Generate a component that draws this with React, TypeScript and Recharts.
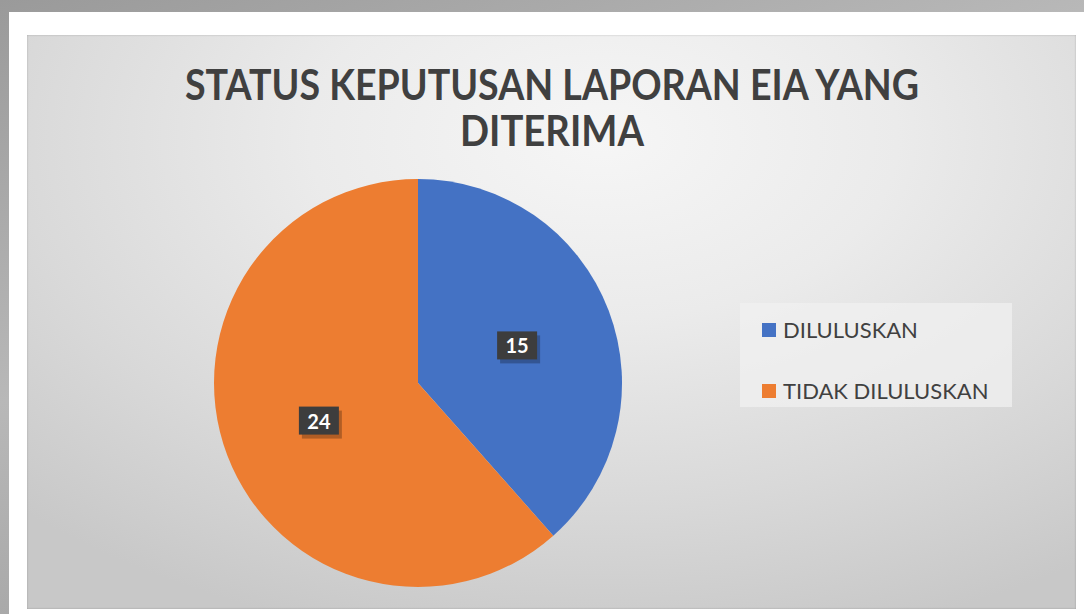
import { PieChart, Pie, Cell, Legend } from 'recharts';

const statusNames = ['DILULUSKAN', 'TIDAK DILULUSKAN'];
const statusValues = [15, 24];
const sliceColors = ['#4472c4', '#ed7d31'];
const titleLines = ['STATUS KEPUTUSAN LAPORAN EIA YANG', 'DITERIMA'];

const pieData = statusNames.map((name, i) => ({ name, value: statusValues[i] }));

const RADIAN = Math.PI / 180;

const renderBoxLabel = (props: any) => {
  const { cx, cy, midAngle, value } = props;
  const r = 106;
  const x = cx + r * Math.cos(-midAngle * RADIAN);
  const y = cy + r * Math.sin(-midAngle * RADIAN);
  const w = 40;
  const h = 28;
  return (
    <g>
      <rect x={x - w / 2 + 3} y={y - h / 2 + 4} width={w} height={h} fill="#000" opacity={0.25} />
      <rect x={x - w / 2} y={y - h / 2} width={w} height={h} fill="#3d3d3d" />
      <text
        x={x}
        y={y}
        fill="#fff"
        textAnchor="middle"
        dominantBaseline="central"
        fontFamily="Lato, sans-serif"
        fontWeight="bold"
        fontSize={20}
      >
        {value}
      </text>
    </g>
  );
};

const renderLegend = (props: any) => {
  const { payload } = props;
  return (
    <div
      style={{
        width: 272,
        height: 104,
        background: 'rgba(240,240,240,0.75)',
        position: 'relative',
        fontFamily: 'Lato, sans-serif',
      }}
    >
      {(payload || []).map((entry: any, i: number) => (
        <div
          key={entry.value}
          style={{
            position: 'absolute',
            left: 22,
            top: 14 + i * 61,
            height: 26,
            display: 'flex',
            alignItems: 'center',
          }}
        >
          <span style={{ width: 14, height: 14, background: entry.color, display: 'inline-block' }} />
          <span style={{ marginLeft: 7, fontSize: 22, color: '#404040', lineHeight: '26px' }}>{entry.value}</span>
        </div>
      ))}
    </div>
  );
};

export default function App() {
  return (
    <div
      style={{
        position: 'fixed',
        left: 0,
        top: 0,
        width: 1084,
        height: 614,
        overflow: 'hidden',
        background: 'linear-gradient(160deg, #9a9a9a 0%, #b8b8b8 40%, #8e8e8e 100%)',
      }}
    >
      <div style={{ position: 'absolute', left: 9, top: 12, width: 1075, height: 602, background: '#fff' }} />
      <div
        style={{
          position: 'absolute',
          left: 27,
          top: 35,
          width: 1049,
          height: 574,
          background:
            'radial-gradient(ellipse 80% 90% at 55% 18%, #f6f6f6 0%, #ebebeb 35%, #d9d9d9 70%, #c8c8c8 100%)',
          boxShadow: 'inset 0 0 2px rgba(0,0,0,0.25)',
        }}
      />
      <svg width={1084} height={614} style={{ position: 'absolute', left: 0, top: 0 }}>
        {titleLines.map((line, i) => (
          <text
            key={line}
            x={552}
            y={100 + i * 46}
            textAnchor="middle"
            fontFamily="Lato, sans-serif"
            fontWeight="bold"
            fontSize={42}
            fill="#404040"
            textLength={i === 0 ? 734 : 184}
            lengthAdjust="spacingAndGlyphs"
          >
            {line}
          </text>
        ))}
      </svg>
      <div style={{ position: 'absolute', left: 0, top: 0 }}>
        <PieChart width={1084} height={614} margin={{ top: 0, right: 0, bottom: 0, left: 0 }}>
          <Pie
            data={pieData}
            dataKey="value"
            nameKey="name"
            cx={418}
            cy={383}
            outerRadius={204}
            startAngle={90}
            endAngle={-270}
            stroke="none"
            label={renderBoxLabel}
            labelLine={false}
            isAnimationActive={false}
          >
            {pieData.map((d, i) => (
              <Cell key={d.name} fill={sliceColors[i]} />
            ))}
          </Pie>
          <Legend
            content={renderLegend}
            layout="vertical"
            align="right"
            verticalAlign="top"
            wrapperStyle={{ left: 740, top: 303, width: 272, right: 'auto', bottom: 'auto' }}
          />
        </PieChart>
      </div>
    </div>
  );
}
